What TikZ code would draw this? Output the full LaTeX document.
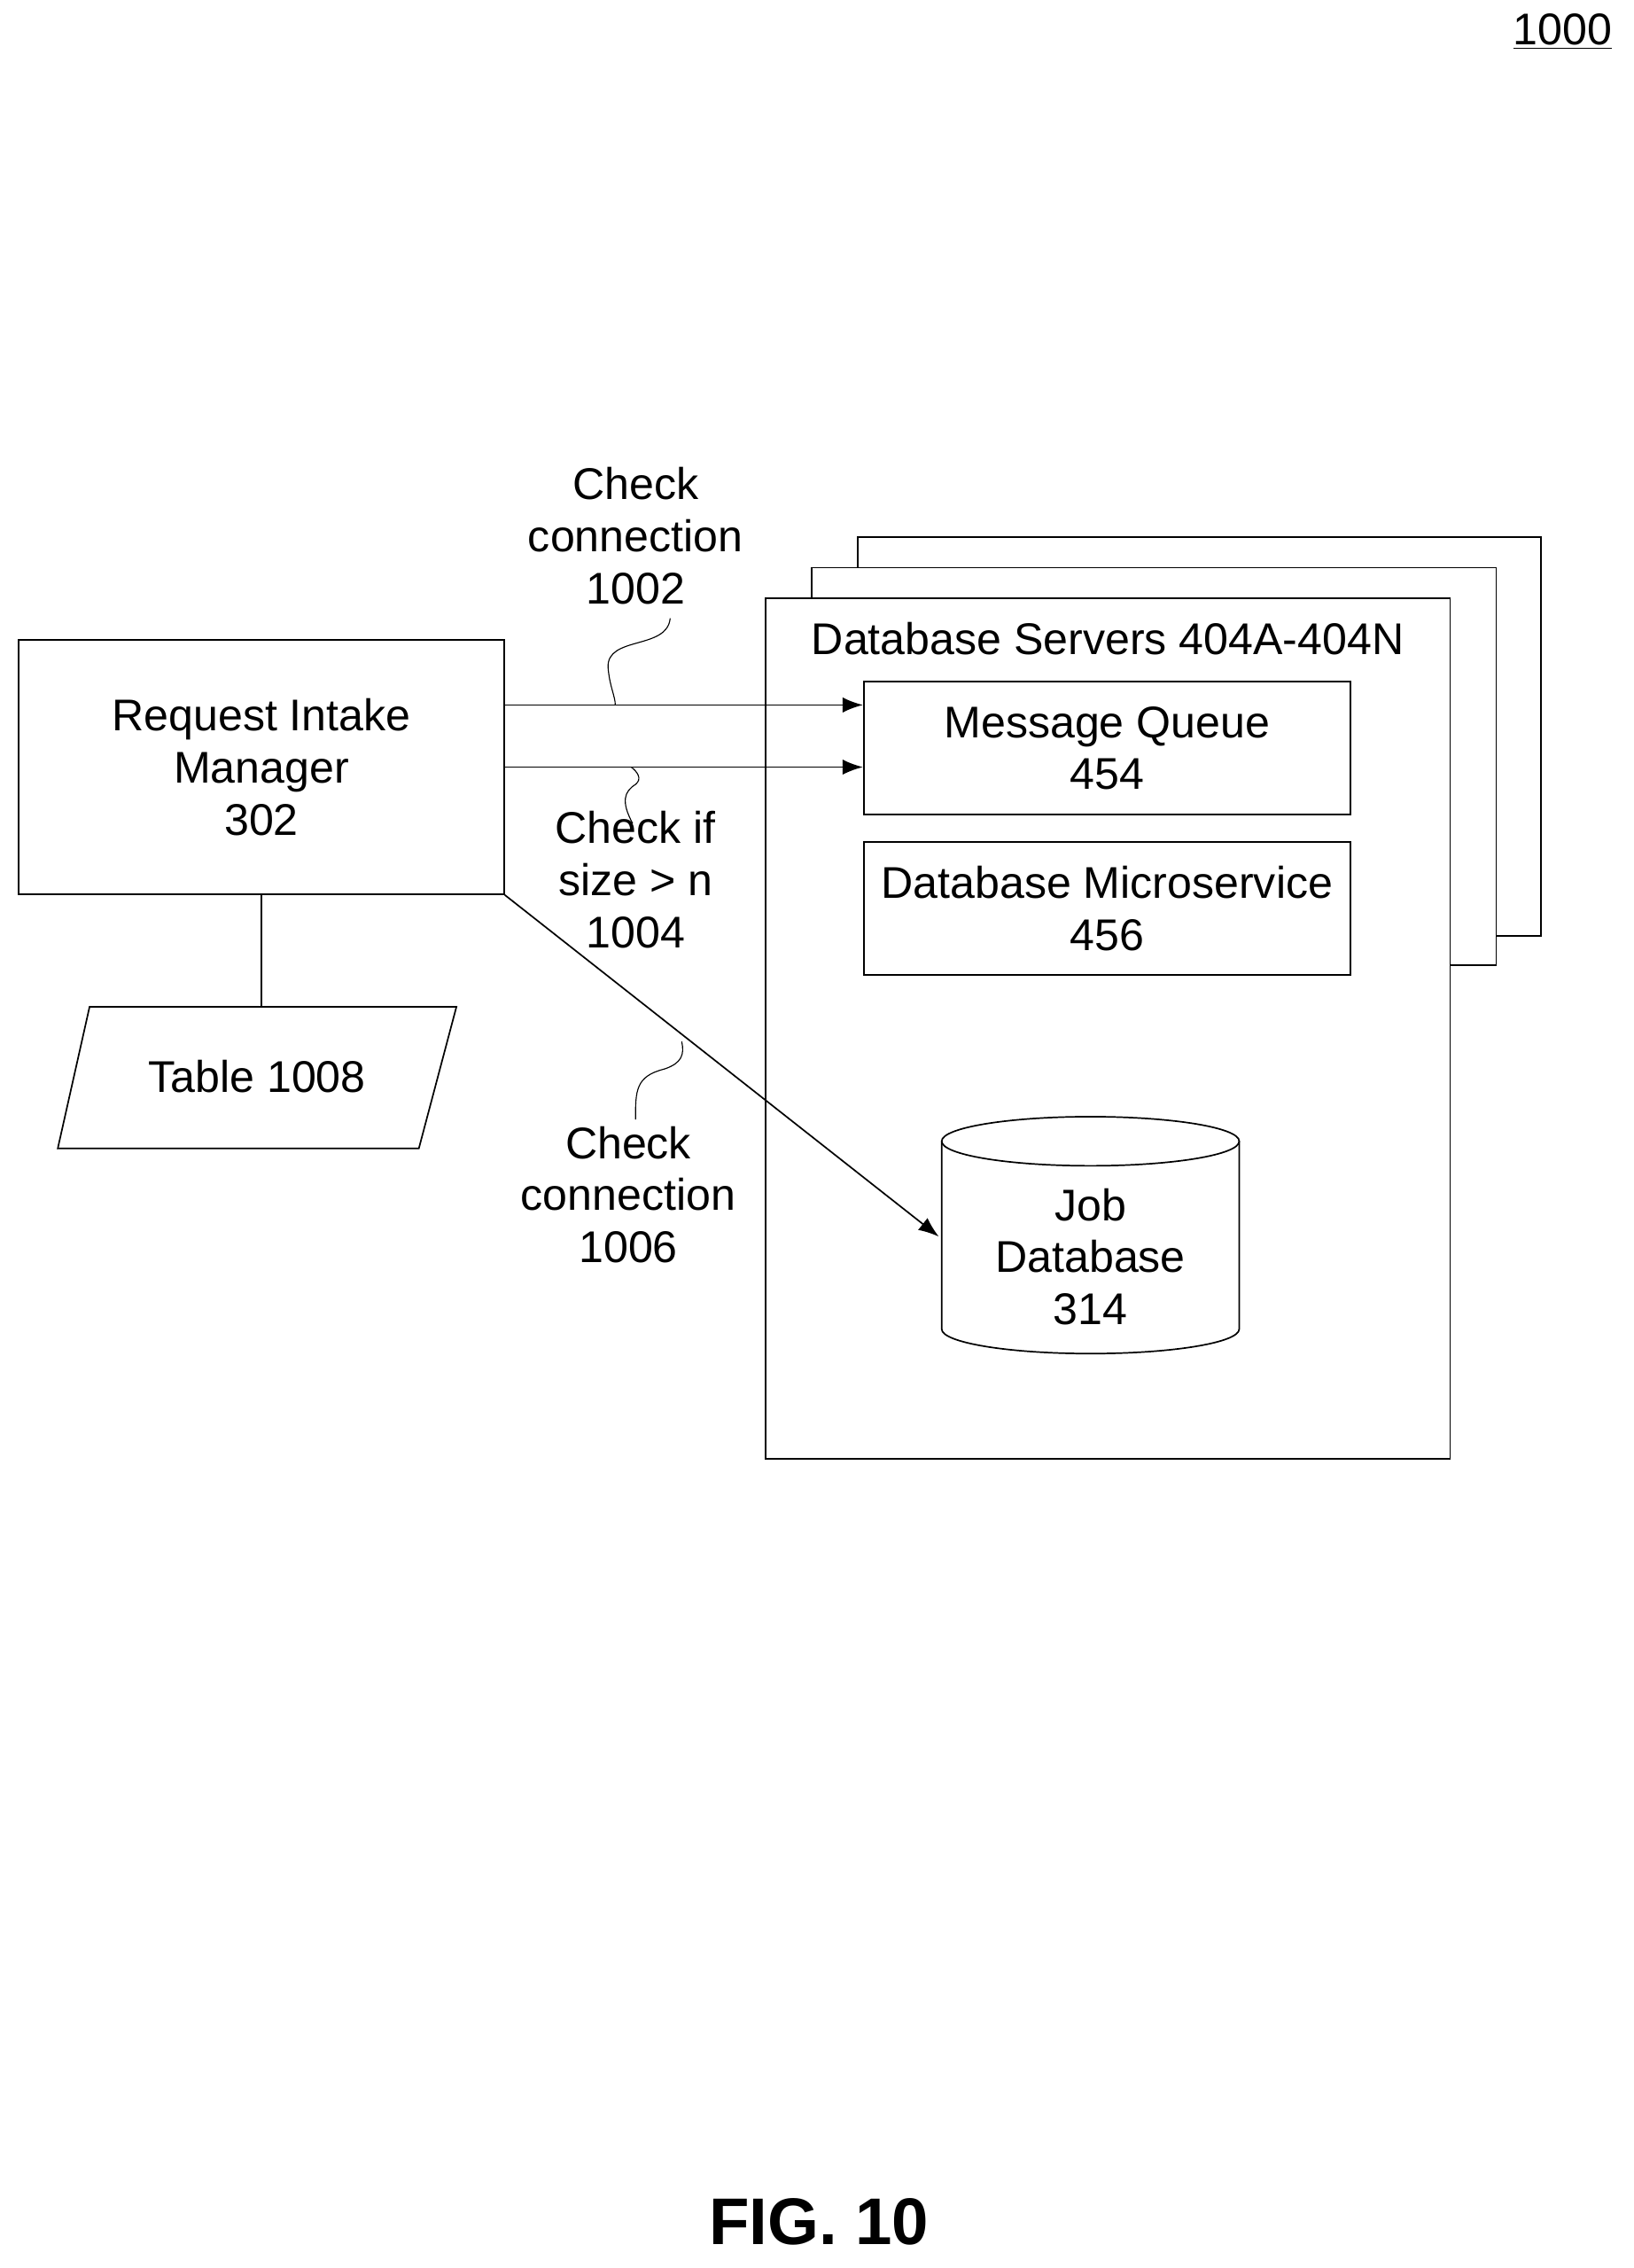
\documentclass[tikz,border=0pt]{standalone}
\usepackage{fontspec}
\setmainfont{Liberation Sans}
\usetikzlibrary{arrows,arrows.meta}

\begin{document}
\begin{tikzpicture}[x=0.02cm, y=-0.02cm, >={Latex[length=8pt,width=6pt]}, semithick, font=\fontsize{17.5}{20.5}\selectfont]
    \tikzstyle{box}=[draw=black, fill=white, align=center, inner sep=0pt]
    \tikzstyle{lbl}=[align=center, inner sep=0pt]
    \tikzstyle{squig}=[thin]

    \useasboundingbox (0,0) rectangle (1131,1570);

    \node[lbl] (fig) at (1082,22) {\underline{1000}};

    % stacked servers
    \draw[fill=white] (594,372) rectangle (1067,648);
    \draw[fill=white] (562,393) rectangle (1036,668);
    \node[box, minimum width=474*0.02cm, minimum height=596*0.02cm] (srv) at (767,712) {};
    \node[lbl] (srvlbl) at (767,442) {Database Servers 404A-404N};

    \node[box, minimum width=337*0.02cm, minimum height=92*0.02cm] (mq) at (766.5,518) {Message Queue\\454};
    \node[box, minimum width=337*0.02cm, minimum height=92*0.02cm] (dbms) at (766.5,629) {Database Microservice\\456};

    % job database cylinder
    \node[lbl, minimum width=206*0.02cm, minimum height=163*0.02cm] (jobdb) at (755,870) {Job\\Database\\314};
    \draw (652,790) -- (652,920) arc[start angle=180, end angle=0, x radius=103, y radius=17]
          -- (858,790);
    \draw (755,790) ellipse[x radius=103, y radius=17];

    \node[box, minimum width=336*0.02cm, minimum height=176*0.02cm] (rim) at (181,531) {Request Intake\\Manager\\302};
    \draw (62,697) -- (316,697) -- (290,795) -- (40,795) -- cycle;
    \node[lbl] (table) at (178,745) {Table 1008};
    \draw (rim.south) -- (181,697);

    \draw[->] (349,488) -- (mq.west |- 0,488);
    \draw[->] (349,531) -- (mq.west |- 0,531);
    \draw[->] (rim.south east) -- (650,856);

    \node[lbl] (c1002) at (440,371) {Check\\connection\\1002};
    \node[lbl] (c1004) at (440,609) {Check if\\size > n\\1004};
    \node[lbl] (c1006) at (435,827) {Check\\connection\\1006};

    \draw[squig] (464,428) .. controls (462,450) and (420,440) .. (421,462) .. controls (422,475) and (426,482) .. (426,488);
    \draw[squig] (438,570) .. controls (430,555) and (432,548) .. (440,543) .. controls (445,539) and (441,534) .. (437,531);
    \draw[squig] (440,775) .. controls (440,755) and (440,745) .. (460,740) .. controls (472,736) and (474,730) .. (472,721);

    \node[lbl, font=\fontsize{26}{30}\selectfont\bfseries] (figno) at (567,1538) {FIG. 10};
\end{tikzpicture}
\end{document}
